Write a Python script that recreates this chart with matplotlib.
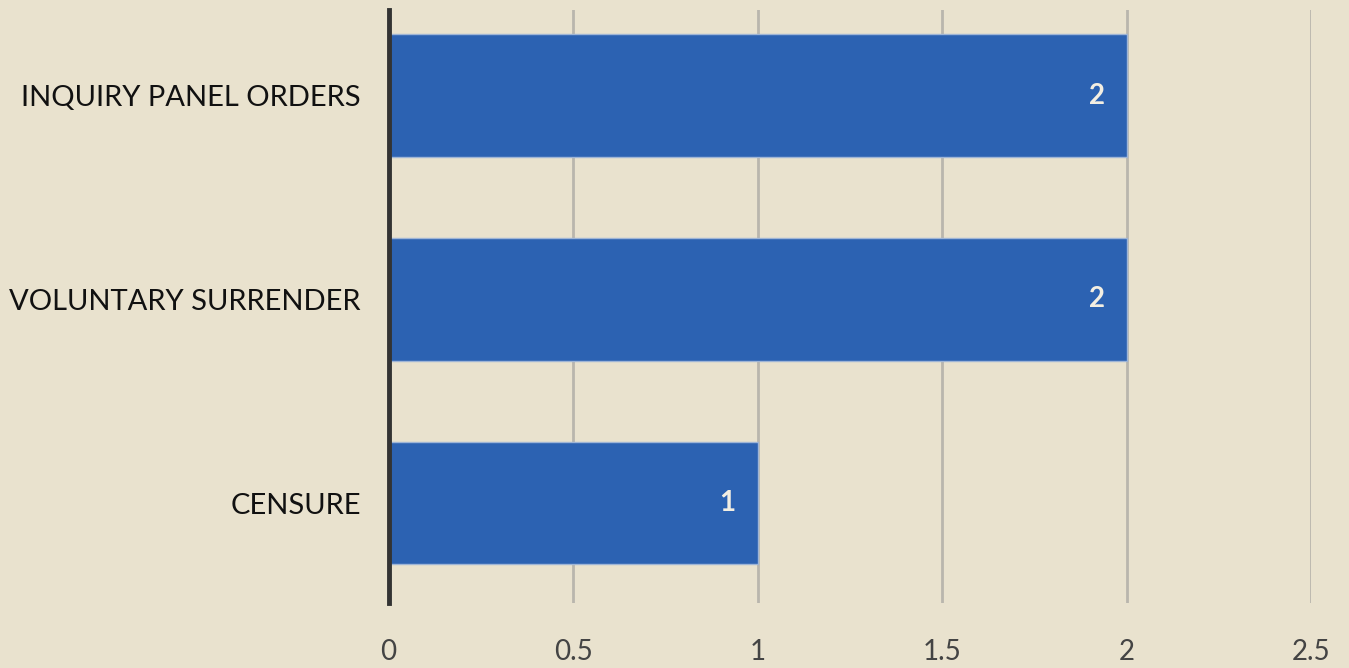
import matplotlib
matplotlib.use("Agg")
import matplotlib.pyplot as plt

categories = ["INQUIRY PANEL ORDERS", "VOLUNTARY SURRENDER", "CENSURE"]
values = [2, 2, 1]
xticks = [0, 0.5, 1, 1.5, 2, 2.5]
xtick_labels = ["0", "0.5", "1", "1.5", "2", "2.5"]

bg = "#E9E2CE"
bar_color = "#2C62B2"

plt.rcParams['font.family'] = ['Lato', 'DejaVu Sans']

fig = plt.figure(figsize=(13.49, 6.68), dpi=100, facecolor=bg)
ax = fig.add_axes([0.288, 0.097, 0.684, 0.888], facecolor=bg)

ypos = list(range(len(categories)))
ax.barh(ypos, values, height=0.6, color=bar_color, edgecolor="#9fb5d6", linewidth=1, zorder=3)

for y, v in zip(ypos, values):
    ax.text(v - 0.06, y, str(v), ha="right", va="center", color="#F3EEE2",
            fontsize=20, fontweight="bold", zorder=4)

ax.set_xlim(0, 2.5)
ax.set_ylim(2.49, -0.42)
ax.set_yticks(ypos)
ax.set_yticklabels(categories, fontsize=21, color="#111111")
ax.set_xticks(xticks)
ax.set_xticklabels(xtick_labels, fontsize=20, color="#444444")
ax.tick_params(axis="y", length=0, pad=20)
ax.tick_params(axis="x", length=0, pad=26)

ax.grid(axis="x", color="#b9b6ad", linewidth=2, zorder=1)
for s in ["top", "right", "bottom"]:
    ax.spines[s].set_visible(False)
ax.spines["left"].set_color("#333333")
ax.spines["left"].set_linewidth(3.5)
ax.spines["left"].set_zorder(5)

fig.savefig("out.png", dpi=100, facecolor=bg)
